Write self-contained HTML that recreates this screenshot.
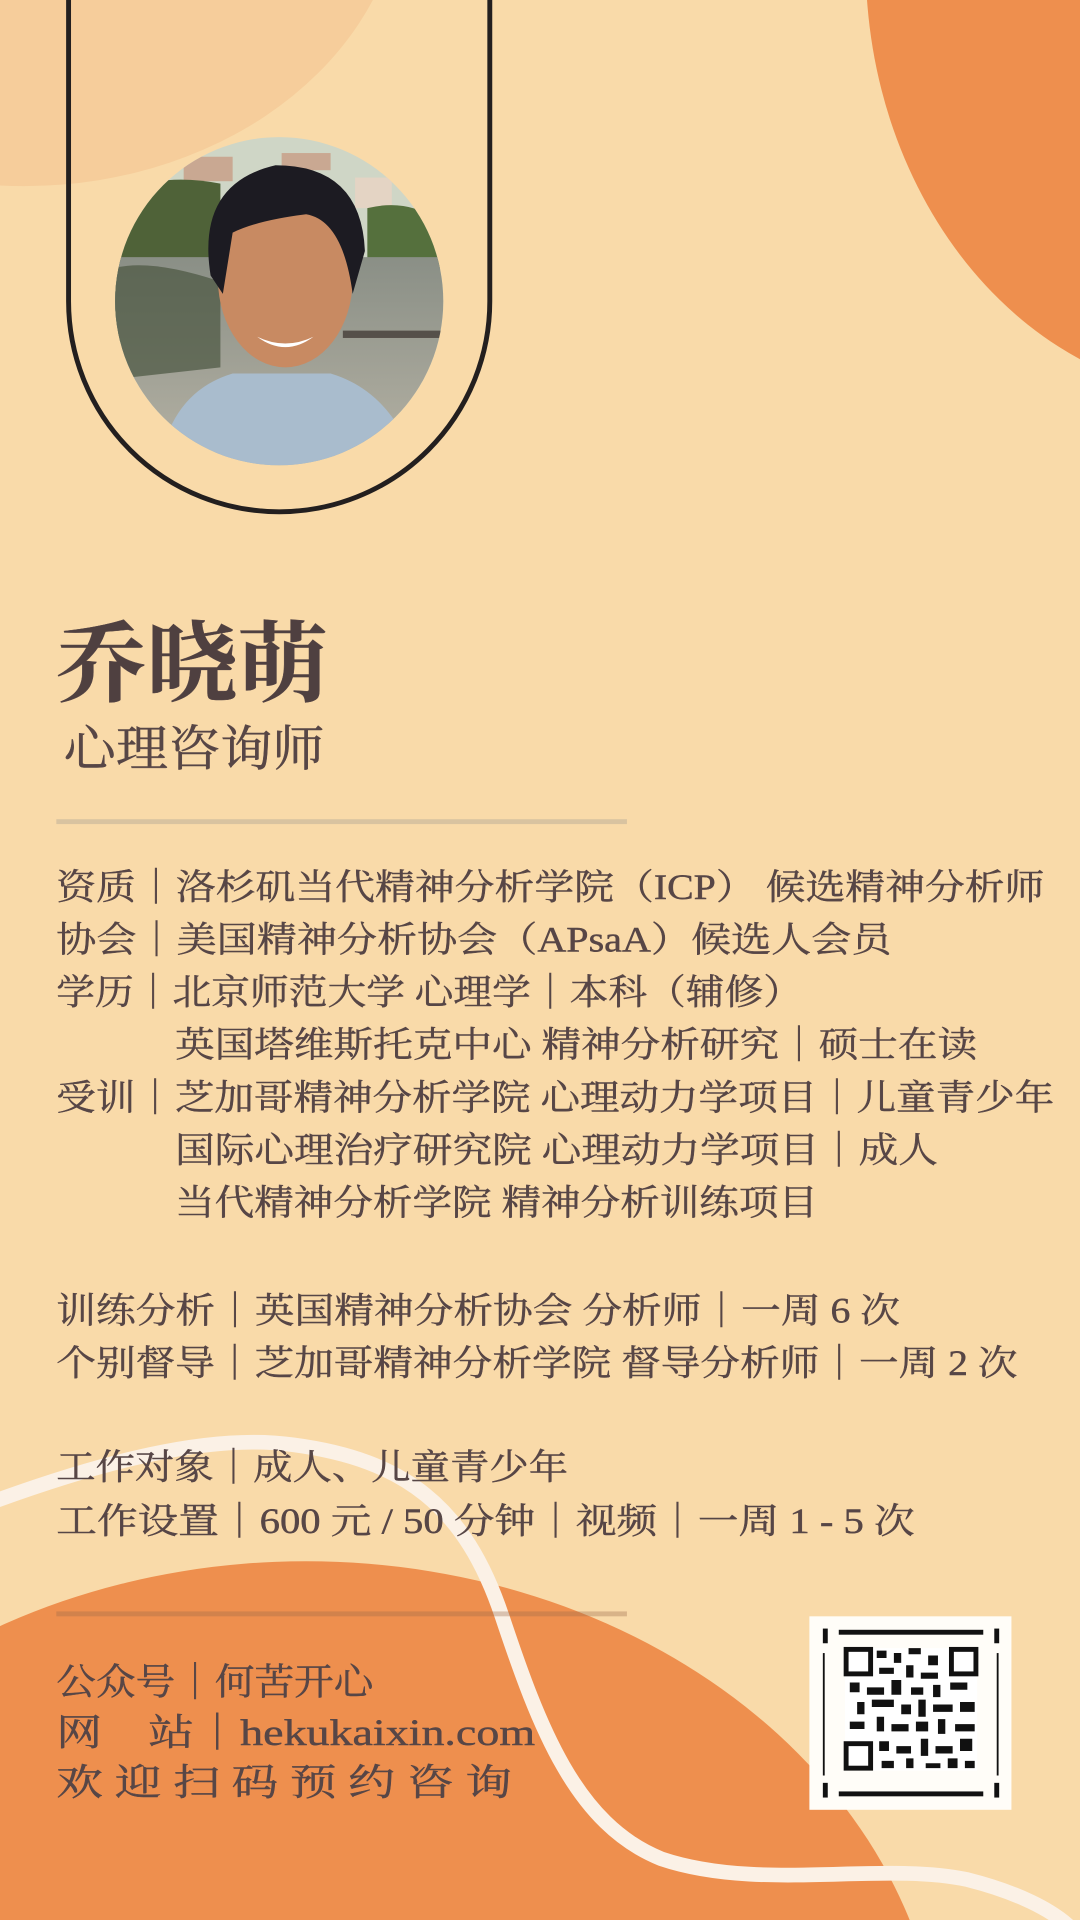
<!DOCTYPE html>
<html><head><meta charset="utf-8"><style>
html,body{margin:0;padding:0;background:#f9daa9;width:1080px;height:1920px;overflow:hidden;}
svg{display:block}
text{font-family:"Liberation Serif","Noto Serif CJK SC",serif;fill:#574646;stroke:#574646;stroke-width:0.35;}
</style></head><body>
<svg width="1080" height="1920" viewBox="0 0 882 1568" xmlns="http://www.w3.org/2000/svg">
<defs>
<clipPath id="pc"><ellipse cx="228" cy="246" rx="134" ry="134"/></clipPath>
<linearGradient id="water" x1="0" y1="0" x2="0" y2="1"><stop offset="0" stop-color="#8a8f86"/><stop offset="1" stop-color="#b8b4a6"/></linearGradient>
</defs>
<rect width="882" height="1568" fill="#f9daa9"/>
<ellipse cx="20" cy="-100" rx="310" ry="252" fill="#f6cd9b"/>
<ellipse cx="1005" cy="-30" rx="298" ry="355" fill="#ee8f4e"/>
<ellipse cx="250" cy="1705" rx="520" ry="430" fill="#ee8f4e"/>
<path d="M-10 1228 C 80 1195 170 1170 240 1180 C 330 1192 380 1230 410 1320 C 440 1410 470 1490 540 1518 C 620 1545 720 1520 790 1535 C 830 1545 860 1560 875 1575" fill="none" stroke="#fbf1e6" stroke-width="12"/>
<path d="M56 -10 L56 246 A172 172 0 0 0 400 246 L400 -10" fill="none" stroke="#231f1f" stroke-width="4"/>
<g clip-path="url(#pc)">
<rect x="90" y="110" width="280" height="280" fill="#cfd6c6"/>
<rect x="150" y="128" width="40" height="20" fill="#c9a892"/>
<rect x="230" y="125" width="40" height="14" fill="#c9a892"/>
<rect x="290" y="145" width="30" height="25" fill="#e4d4c4"/>
<path d="M90 160 Q130 140 180 150 L180 270 L90 280Z" fill="#4f6238"/>
<path d="M300 170 Q340 160 370 190 L370 220 L300 215Z" fill="#55703d"/>
<rect x="90" y="210" width="280" height="180" fill="url(#water)"/>
<path d="M90 220 Q120 210 180 230 L180 300 L90 310Z" fill="#4a5540" opacity="0.7"/>
<rect x="280" y="270" width="80" height="6" fill="#55504a"/>
<path d="M130 380 Q140 320 190 305 L270 305 Q320 320 340 380Z" fill="#a9bccd"/>
<ellipse cx="233" cy="228" rx="55" ry="72" fill="#c88a62"/>
<path d="M172 225 Q160 150 225 135 Q295 135 298 205 L288 240 Q280 180 250 175 Q210 180 190 190 L182 240Z" fill="#1c1b22"/>
<path d="M210 275 Q233 292 256 275 Q233 286 210 275Z" fill="#fff"/>
</g>
<text x="46" y="567" font-size="72" font-weight="bold" textLength="222" lengthAdjust="spacingAndGlyphs" style="fill:#4f4040">乔晓萌</text>
<text x="52" y="625" font-size="40" textLength="213" lengthAdjust="spacingAndGlyphs">心理咨询师</text>
<rect x="46" y="669" width="466" height="4" fill="#d9c3a0"/>
<g font-size="29">
<text x="46" y="734" textLength="807" lengthAdjust="spacingAndGlyphs">资质｜洛杉矶当代精神分析学院（ICP） 候选精神分析师</text>
<text x="46" y="777" textLength="682" lengthAdjust="spacingAndGlyphs">协会｜美国精神分析协会（APsaA）候选人会员</text>
<text x="46" y="820" textLength="609" lengthAdjust="spacingAndGlyphs">学历｜北京师范大学 心理学｜本科（辅修）</text>
<text x="143" y="863" textLength="655" lengthAdjust="spacingAndGlyphs">英国塔维斯托克中心 精神分析研究｜硕士在读</text>
<text x="46" y="906" textLength="815" lengthAdjust="spacingAndGlyphs">受训｜芝加哥精神分析学院 心理动力学项目｜儿童青少年</text>
<text x="143" y="949" textLength="623" lengthAdjust="spacingAndGlyphs">国际心理治疗研究院 心理动力学项目｜成人</text>
<text x="143" y="992" textLength="525" lengthAdjust="spacingAndGlyphs">当代精神分析学院 精神分析训练项目</text>
<text x="46" y="1080" textLength="689" lengthAdjust="spacingAndGlyphs">训练分析｜英国精神分析协会 分析师｜一周 6 次</text>
<text x="46" y="1123" textLength="785" lengthAdjust="spacingAndGlyphs">个别督导｜芝加哥精神分析学院 督导分析师｜一周 2 次</text>
<text x="46" y="1208" textLength="418" lengthAdjust="spacingAndGlyphs">工作对象｜成人、儿童青少年</text>
<text x="46" y="1252" textLength="701" lengthAdjust="spacingAndGlyphs">工作设置｜600 元 / 50 分钟｜视频｜一周 1 - 5 次</text>
</g>
<rect x="46" y="1316" width="466" height="4" fill="#9a6a4a" opacity="0.35"/>
<g font-size="30">
<text x="46" y="1384" textLength="259" lengthAdjust="spacingAndGlyphs">公众号｜何苦开心</text>
<text x="46" y="1425" textLength="391" lengthAdjust="spacingAndGlyphs">网　站｜hekukaixin.com</text>
<text x="46" y="1466" textLength="372" lengthAdjust="spacingAndGlyphs">欢 迎 扫 码 预 约 咨 询</text>
</g>
<g>
<rect x="661" y="1320" width="165" height="158" fill="#fffdf8"/>
<rect x="672" y="1330" width="4" height="12" fill="#111"/><rect x="812" y="1330" width="4" height="12" fill="#111"/>
<rect x="685" y="1331" width="118" height="4" fill="#111"/>
<rect x="672" y="1456" width="4" height="12" fill="#111"/><rect x="812" y="1456" width="4" height="12" fill="#111"/>
<rect x="685" y="1463" width="118" height="4" fill="#111"/>
<rect x="672" y="1350" width="1.5" height="100" fill="#111"/><rect x="814" y="1350" width="1.5" height="100" fill="#111"/>
<rect x="690" y="1346" width="108" height="100" fill="#fff"/>
<rect x="691" y="1347" width="20" height="20" fill="none" stroke="#111" stroke-width="4"/>
<rect x="777" y="1347" width="20" height="20" fill="none" stroke="#111" stroke-width="4"/>
<rect x="691" y="1424" width="20" height="20" fill="none" stroke="#111" stroke-width="4"/>
<path d="M716 1348h8v6h-8zM730 1350h6v8h-6zM742 1346h10v5h-10zM758 1352h8v8h-8zM718 1362h12v5h-12zM740 1360h6v10h-6zM752 1366h14v5h-14zM694 1374h8v8h-8zM708 1378h14v6h-14zM728 1372h8v12h-8zM744 1378h10v6h-10zM762 1376h6v10h-6zM776 1374h14v6h-14zM700 1390h6v10h-6zM712 1388h18v6h-18zM736 1392h8v8h-8zM750 1388h6v14h-6zM762 1392h16v6h-16zM784 1390h12v8h-12zM694 1406h12v6h-12zM716 1402h6v12h-6zM728 1408h14v6h-14zM748 1406h10v8h-10zM766 1404h6v12h-6zM780 1408h16v6h-16zM718 1422h8v8h-8zM732 1426h12v6h-12zM752 1420h6v14h-6zM764 1426h14v6h-14zM784 1420h10v10h-10zM720 1438h10v6h-10zM740 1436h6v8h-6zM756 1440h12v4h-12zM774 1436h8v8h-8zM788 1438h8v6h-8z" fill="#111"/>
</g>
</svg>
</body></html>
